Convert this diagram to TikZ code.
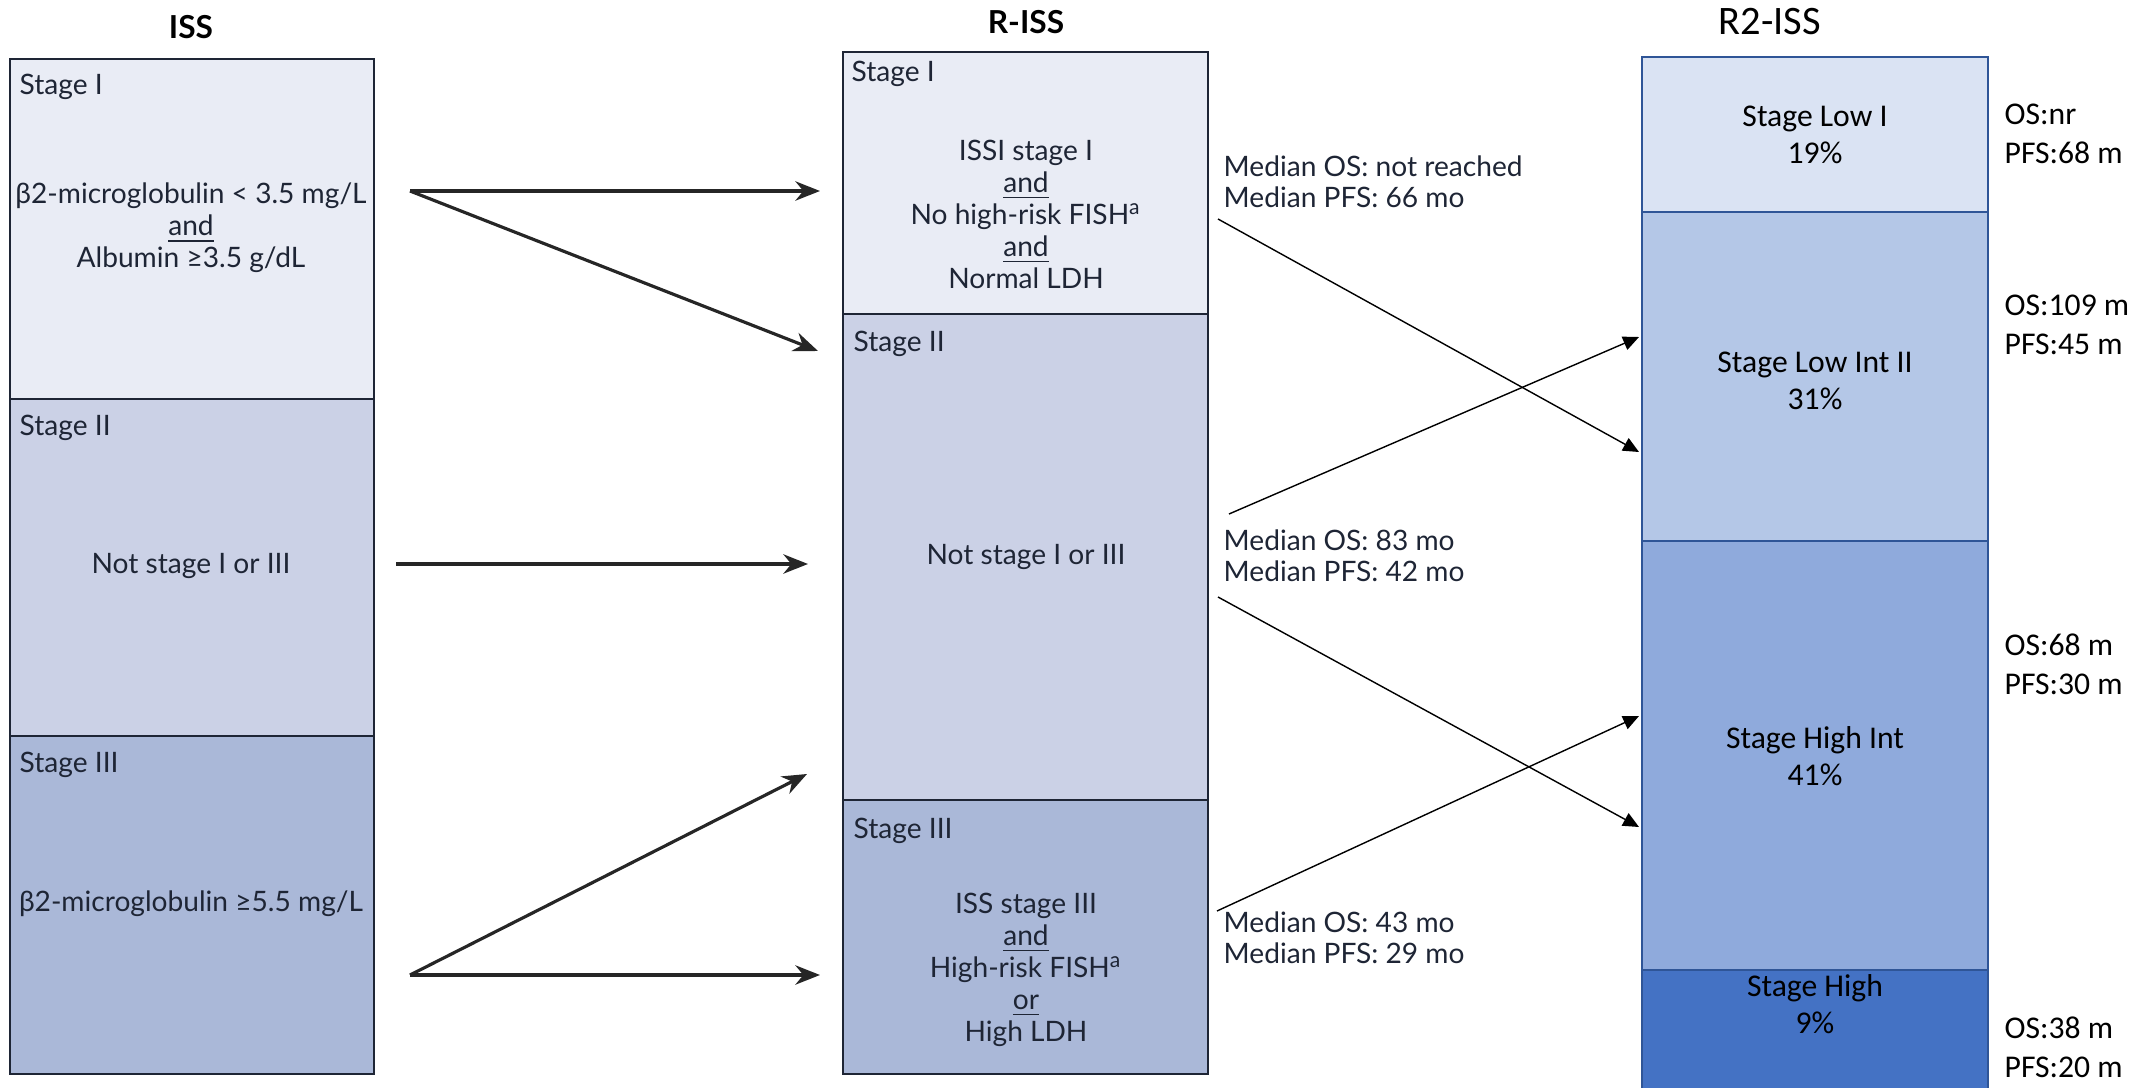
\documentclass[tikz,border=0pt]{standalone}
\usepackage{fontspec}
\setmainfont{Lato}
\newfontfamily\calibri{Carlito}
\usetikzlibrary{arrows.meta, positioning}

\definecolor{issA}{HTML}{E9ECF5}
\definecolor{issB}{HTML}{CBD1E6}
\definecolor{issC}{HTML}{AAB8D8}
\definecolor{issline}{HTML}{1E2535}
\definecolor{rA}{HTML}{DAE3F3}
\definecolor{rB}{HTML}{B4C7E7}
\definecolor{rC}{HTML}{8FAADC}
\definecolor{rD}{HTML}{4472C4}
\definecolor{rline}{HTML}{2F5597}

\tikzset{
  coltitle/.style={font=\bfseries\fontsize{9}{10}\selectfont, inner sep=0pt},
  stagelbl/.style={anchor=west, font=\fontsize{8}{9.1}\selectfont, text=issline, inner sep=0pt},
  crit/.style={align=center, font=\fontsize{8}{9.1}\selectfont, text=issline, inner sep=0pt},
  median/.style={anchor=west, align=left, font=\fontsize{8}{8.9}\selectfont, text=issline, inner sep=0pt},
  r2txt/.style={align=center, font=\calibri\fontsize{9}{10.4}\selectfont, inner sep=0pt},
  r2side/.style={anchor=west, align=left, font=\calibri\fontsize{9}{11.2}\selectfont, inner sep=0pt},
  bigarrow/.style={-{Stealth[length=7pt, width=5.5pt]}, line width=0.9pt, black!85},
  thinarrow/.style={-{Triangle[length=4.5pt, width=4pt]}, line width=0.4pt}
}

\begin{document}
\begin{tikzpicture}[x=0.01cm, y=-0.01cm]
  \useasboundingbox (0,0) rectangle (2142,1088);

  % ISS column
  \begin{scope}[draw=issline, line width=0.8pt]
    \draw[fill=issA] (10,59) rectangle (374,399);
    \draw[fill=issB] (10,399) rectangle (374,736);
    \draw[fill=issC] (10,736) rectangle (374,1074);
  \end{scope}
  \node[coltitle] (tiss) at (191,27) {ISS};
  \node[stagelbl] (iss1) at (19,87) {Stage I};
  \node[stagelbl] (iss2) at (19,428) {Stage II};
  \node[stagelbl] (iss3) at (19,765) {Stage III};
  \node[crit] (iss1c) at (191,228) {β2-microglobulin < 3.5 mg/L\\\underline{and}\\Albumin ≥3.5 g/dL};
  \node[crit] (iss2c) at (191,566) {Not stage I or III};
  \node[crit] (iss3c) at (191,904) {β2-microglobulin ≥5.5 mg/L};

  % R-ISS column
  \begin{scope}[draw=issline, line width=0.8pt]
    \draw[fill=issA] (843,52) rectangle (1208,314);
    \draw[fill=issB] (843,314) rectangle (1208,800);
    \draw[fill=issC] (843,800) rectangle (1208,1074);
  \end{scope}
  \node[coltitle] (triss) at (1026,22) {R-ISS};
  \node[stagelbl] (riss1) at (851,74) {Stage I};
  \node[stagelbl] (riss2) at (853,344) {Stage II};
  \node[stagelbl] (riss3) at (853,831) {Stage III};
  \node[crit] (riss1c) at (1026,214) {ISSI stage I\\\underline{and}\\No high-risk FISH\textsuperscript{a}\\\underline{and}\\Normal LDH};
  \node[crit] (riss2c) at (1026,557) {Not stage I or III};
  \node[crit] (riss3c) at (1026,970) {ISS stage III\\\underline{and}\\High-risk FISH\textsuperscript{a}\\\underline{or}\\High LDH};
  \node[median] (med1) at (1223,182) {Median OS: not reached\\Median PFS: 66 mo};
  \node[median] (med2) at (1223,556) {Median OS: 83 mo\\Median PFS: 42 mo};
  \node[median] (med3) at (1223,938) {Median OS: 43 mo\\Median PFS: 29 mo};

  % R2-ISS column
  \begin{scope}[draw=rline, line width=0.8pt]
    \draw[fill=rA] (1642,57) rectangle (1988,212);
    \draw[fill=rB] (1642,212) rectangle (1988,541);
    \draw[fill=rC] (1642,541) rectangle (1988,970);
    \draw[fill=rD] (1642,970) rectangle (1988,1096);
  \end{scope}
  \node[font=\calibri\fontsize{11.5}{13}\selectfont, inner sep=0pt] (tr2) at (1770,22) {R2-ISS};
  \node[r2txt] (low) at (1815,135) {Stage Low I\\19\%};
  \node[r2txt] (lowint) at (1815,381) {Stage Low Int II\\31\%};
  \node[r2txt] (highint) at (1815,756) {Stage High Int\\41\%};
  \node[r2txt] (high) at (1815,1004) {Stage High\\9\%};
  \node[r2side] (s1) at (2004,134) {OS:nr\\PFS:68 m};
  \node[r2side] (s2) at (2004,325) {OS:109 m\\PFS:45 m};
  \node[r2side] (s3) at (2004,664) {OS:68 m\\PFS:30 m};
  \node[r2side] (s4) at (2004,1047) {OS:38 m\\PFS:20 m};

  % ISS -> R-ISS
  \coordinate (a1) at (410,191);
  \coordinate (a2) at (396,564);
  \coordinate (a3) at (410,975);
  \coordinate (b1) at (820,191);
  \coordinate (b2) at (818,351);
  \coordinate (b3) at (808,564);
  \coordinate (b4) at (807,774);
  \coordinate (b5) at (820,975);
  \draw[bigarrow] (a1) -- (b1);
  \draw[bigarrow] (a1) -- (b2);
  \draw[bigarrow] (a2) -- (b3);
  \draw[bigarrow] (a3) -- (b4);
  \draw[bigarrow] (a3) -- (b5);

  % R-ISS -> R2-ISS
  \coordinate (c1) at (1218,219);
  \coordinate (c2) at (1229,514);
  \coordinate (c3) at (1218,597);
  \coordinate (c4) at (1217,911);
  \coordinate (d1) at (1639,452);
  \coordinate (d2) at (1639,337);
  \coordinate (d3) at (1639,827);
  \coordinate (d4) at (1639,716);
  \draw[thinarrow] (c1) -- (d1);
  \draw[thinarrow] (c2) -- (d2);
  \draw[thinarrow] (c3) -- (d3);
  \draw[thinarrow] (c4) -- (d4);
\end{tikzpicture}
\end{document}
